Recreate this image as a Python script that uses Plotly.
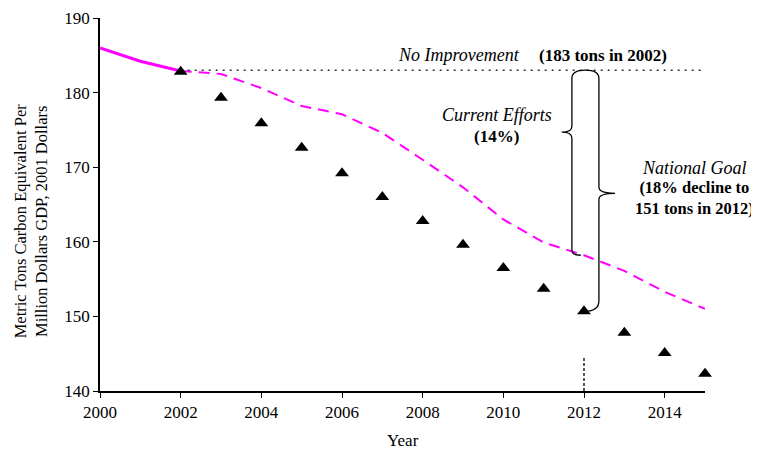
import plotly.graph_objects as go

# ---------------- data ----------------
years = list(range(2000, 2016))
current_efforts = [186.0, 184.2, 182.9, 182.5, 180.6, 178.2, 177.1, 174.6,
                   171.0, 167.3, 163.0, 159.9, 158.2, 156.1, 153.3, 151.0]
hist_years = [2000, 2001, 2002]
goal_years = list(range(2002, 2016))
national_goal = [182.8, 179.3, 175.9, 172.6, 169.2, 166.0, 162.8, 159.6,
                 156.5, 153.7, 150.7, 147.8, 145.1, 142.3]
no_improvement_years = [2002, 2015]
no_improvement_value = 183.0
goal_year = 2012
x_ticks = [2000, 2002, 2004, 2006, 2008, 2010, 2012, 2014]
y_ticks = [140, 150, 160, 170, 180, 190]

FONT = "Liberation Serif"
MAG = "#FF00FF"

fig = go.Figure()

# historical (solid) part of the intensity line
fig.add_trace(go.Scatter(x=hist_years, y=current_efforts[:3], mode="lines",
                         line=dict(color=MAG, width=3), showlegend=False))
# projected current efforts (dashed)
fig.add_trace(go.Scatter(x=years[2:], y=current_efforts[2:], mode="lines",
                         line=dict(color=MAG, width=2, dash="11px,7px"),
                         showlegend=False))
# no improvement (dotted)
fig.add_trace(go.Scatter(x=no_improvement_years,
                         y=[no_improvement_value] * len(no_improvement_years),
                         mode="lines", line=dict(color="#333333", width=1.4, dash="2px,5px"),
                         showlegend=False))
# national goal (triangles)
fig.add_trace(go.Scatter(x=goal_years, y=national_goal, mode="markers",
                         marker=dict(symbol="triangle-up", size=12, color="black"),
                         cliponaxis=False, showlegend=False))
# vertical dotted marker at 2012
fig.add_trace(go.Scatter(x=[goal_year, goal_year], y=[140, 144.6], mode="lines",
                         line=dict(color="black", width=1.3, dash="3px,2px"),
                         showlegend=False))

# ---------------- braces ----------------
ce_2012 = current_efforts[years.index(goal_year)]
ng_2012 = national_goal[goal_years.index(goal_year)]
ytop = no_improvement_value
xL, xR = 2011.70, 2012.37
xm = (xL + xR) / 2
ymidL = 174.7
ymidR = 166.5
p = (f"M {xL+0.22},{ce_2012} Q {xL},{ce_2012} {xL},{ce_2012+0.7} "
     f"L {xL},{ymidL-0.8} Q {xL},{ymidL} {xL-0.25},{ymidL} "
     f"Q {xL},{ymidL} {xL},{ymidL+0.8} "
     f"L {xL},{ytop-1.1} Q {xL},{ytop} {xm},{ytop} "
     f"Q {xR},{ytop} {xR},{ytop-1.1} "
     f"L {xR},{ymidR+0.8} Q {xR},{ymidR} {xR+0.4},{ymidR} "
     f"Q {xR},{ymidR} {xR},{ymidR-0.8} "
     f"L {xR},{ng_2012+1.4} Q {xR},{ng_2012} {xR-0.35},{ng_2012}")
fig.add_shape(type="path", path=p, xref="x", yref="y",
              line=dict(color="black", width=1.3))

# ---------------- annotations ----------------
it = dict(family=FONT, size=18, color="black")
bd = dict(family=FONT, size=17, color="black")
bd2 = dict(family=FONT, size=16.5, color="black")
ann = [
    dict(x=2008.9, y=185.0, text="<i>No Improvement</i>", font=it),
    dict(x=2012.47, y=185.0, text="<b>(183 tons in 2002)</b>", font=bd),
    dict(x=2009.84, y=177.0, text="<i>Current Efforts</i>", font=it),
    dict(x=2009.84, y=174.05, text="<b>(14%)</b>", font=bd),
    dict(x=2014.75, y=169.9, text="<i>National Goal</i>", font=it),
    dict(x=2014.75, y=165.9,
         text="<b>(18% decline to<br>151 tons in 2012)</b>", font=bd2),
]
for a in ann:
    fig.add_annotation(xref="x", yref="y", showarrow=False, xanchor="center",
                       yanchor="middle", **a)

fig.add_annotation(xref="paper", yref="paper", x=-0.115, y=0.456,
                   xanchor="center", yanchor="middle",
                   text="Metric Tons Carbon Equivalent Per<br>Million Dollars GDP, 2001 Dollars",
                   textangle=-90, showarrow=False, font=dict(family=FONT, size=16.5, color="black"))
fig.add_annotation(xref="paper", yref="paper", x=0.5, y=-0.132, text="Year",
                   xanchor="center", yanchor="middle",
                   showarrow=False, font=dict(family=FONT, size=17, color="black"))

fig.update_xaxes(range=[2000, 2015], tickvals=x_ticks, ticks="outside", ticklen=5,
                 tickwidth=1.3, tickcolor="black", showline=True, linecolor="black",
                 linewidth=1.5, showgrid=False, zeroline=False, automargin=False,
                 tickfont=dict(family=FONT, size=17, color="black"))
fig.update_yaxes(range=[140, 190], tickvals=y_ticks, ticks="outside", ticklen=5,
                 tickwidth=1.3, tickcolor="black", showline=True, linecolor="black",
                 linewidth=1.5, showgrid=False, zeroline=False, automargin=False,
                 tickfont=dict(family=FONT, size=17, color="black"))

# page body has an 8px margin, so shrink figure and margins to compensate
fig.update_layout(width=751, height=443, margin=dict(l=92, r=54, t=10, b=60),
                  plot_bgcolor="white", paper_bgcolor="white", showlegend=False)

fig.write_html("out.html")
